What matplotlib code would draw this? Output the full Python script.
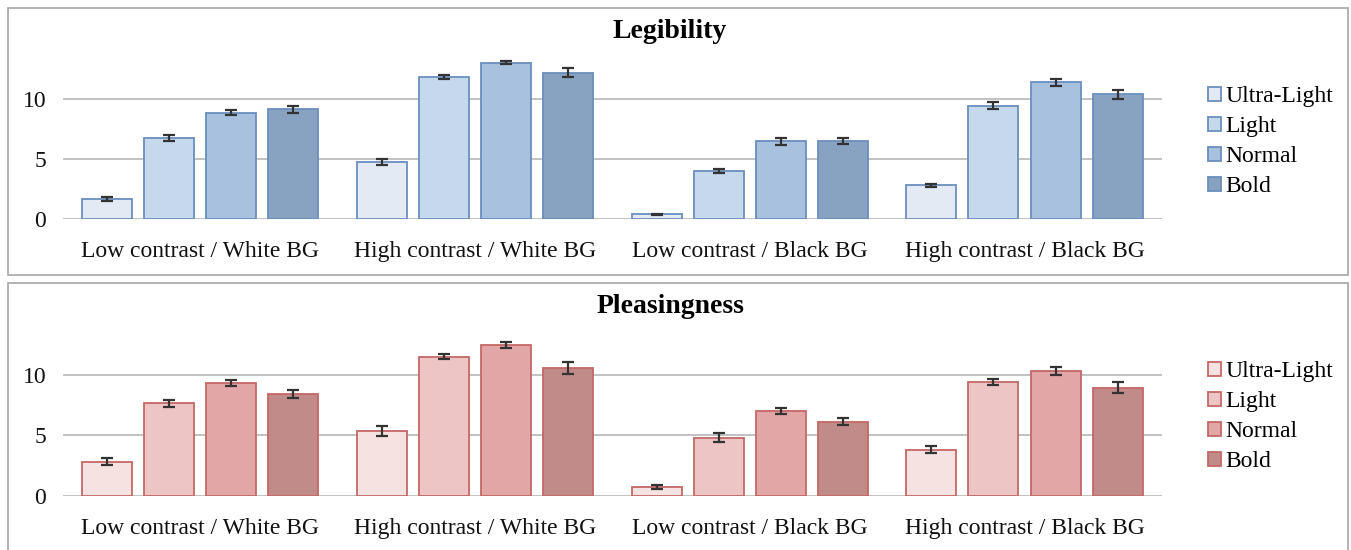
import numpy as np
import matplotlib.pyplot as plt
from matplotlib.patches import Rectangle

plt.rcParams['font.family'] = ['Liberation Serif', 'DejaVu Serif']

groups = ['Low contrast / White BG', 'High contrast / White BG',
          'Low contrast / Black BG', 'High contrast / Black BG']
weights = ['Ultra-Light', 'Light', 'Normal', 'Bold']

# legibility means / errors, one row per weight
leg_vals = [[1.67, 4.78, 0.40, 2.80],
            [6.75, 11.86, 4.00, 9.45],
            [8.86, 13.06, 6.50, 11.40],
            [9.17, 12.22, 6.50, 10.40]]
leg_err = [[0.15, 0.25, 0.05, 0.15],
           [0.25, 0.20, 0.20, 0.30],
           [0.20, 0.15, 0.30, 0.30],
           [0.30, 0.35, 0.25, 0.35]]

# pleasingness means / errors
ple_vals = [[2.83, 5.37, 0.74, 3.83],
            [7.66, 11.50, 4.82, 9.45],
            [9.31, 12.45, 7.02, 10.33],
            [8.45, 10.55, 6.14, 8.93]]
ple_err = [[0.30, 0.40, 0.20, 0.30],
           [0.30, 0.20, 0.35, 0.25],
           [0.25, 0.25, 0.25, 0.30],
           [0.35, 0.50, 0.30, 0.45]]

blue_fill = ['#E3EAF4', '#C6D8EC', '#A7C1DF', '#88A3C1']
blue_edge = '#6A8FBD'
red_fill = ['#F6E2E1', '#EDC5C4', '#E1A6A5', '#C08B89']
red_edge = '#C46866'

fig = plt.figure(figsize=(13.51, 5.5), dpi=100)

# panel frames
for y0, h in [(0.5, 0.485), (-0.02, 0.505)]:
    fig.patches.append(Rectangle((0.006, y0), 0.992, h, transform=fig.transFigure,
                                 fill=False, edgecolor='#A6A6A6', lw=1.2))

def panel(rect, vals, errs, fills, edge, title, title_y, leg_y):
    ax = fig.add_axes(rect)
    x = np.arange(len(groups))
    w = 0.182
    step = 0.226
    handles = []
    for i in range(len(weights)):
        b = ax.bar(x + (i - 1.5) * step, vals[i], w, color=fills[i], edgecolor=edge,
                   lw=1.3, label=weights[i], zorder=3,
                   yerr=errs[i], error_kw=dict(ecolor='#333333', elinewidth=1.6,
                                               capsize=4, capthick=1.6, zorder=4))
        handles.append(b)
    ax.set_xlim(-0.5, 3.5)
    ax.set_ylim(0, 14)
    ax.set_yticks([0, 5, 10])
    ax.set_xticks(x)
    ax.set_xticklabels(groups)
    ax.tick_params(length=0, labelsize=17, colors='#111111')
    ax.tick_params(axis='x', pad=16)
    ax.tick_params(axis='y', pad=12)
    ax.yaxis.grid(True, color='#BDBDBD', lw=1.3, zorder=0)
    for s in ax.spines.values():
        s.set_visible(False)
    fig.text(0.496, title_y, title, ha='center', va='center', fontsize=20,
             fontweight='bold')
    fig.legend(handles=handles, loc='upper left', bbox_to_anchor=(0.887, leg_y),
               frameon=False, fontsize=17, handlelength=0.55, handleheight=0.55,
               handletextpad=0.2, labelspacing=0.38, borderaxespad=0)
    return ax

panel([0.0466, 0.6018, 0.8134, 0.305], leg_vals, leg_err, blue_fill, blue_edge,
      'Legibility', 0.943, 0.86)
panel([0.0466, 0.0982, 0.8134, 0.308], ple_vals, ple_err, red_fill, red_edge,
      'Pleasingness', 0.443, 0.36)

fig.savefig('out.png', dpi=100)
